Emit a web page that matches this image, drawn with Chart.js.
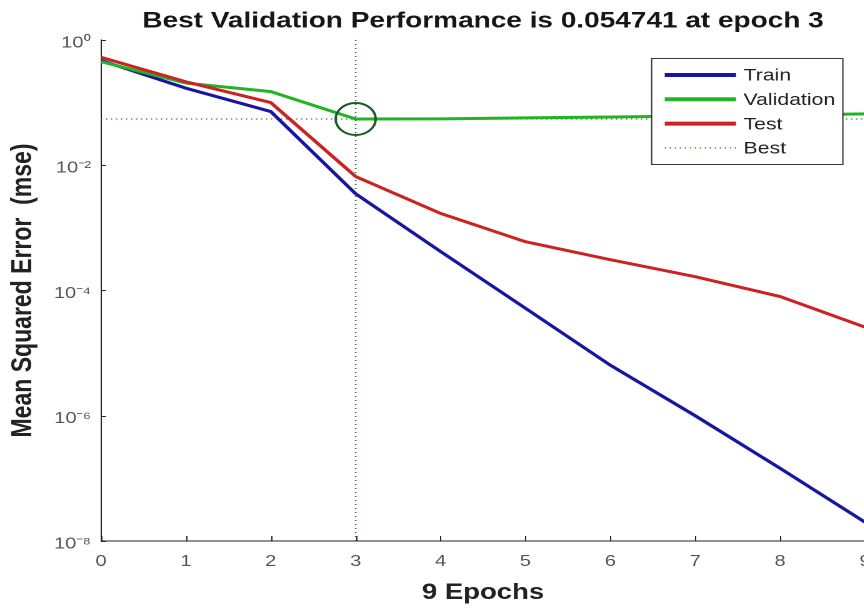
<!DOCTYPE html>
<html><head><meta charset="utf-8">
<script src="https://cdn.jsdelivr.net/npm/chart.js@4"></script>
<style>
html,body{margin:0;padding:0;background:#fff;overflow:hidden;width:864px;height:609px}
#wrap{position:absolute;left:0;top:0;width:774px;height:609px;transform:scaleX(1.25);transform-origin:0 0}
</style></head><body>
<div id="wrap"><canvas id="c"></canvas></div>
<script>
// ---- data ----
const epochs = [0, 1, 2, 3, 4, 5, 6, 7, 8, 9];
const trainPerf = [0.47, 0.17, 0.072, 0.0035, 4.2e-4, 5.2e-5, 6.4e-6, 1.0e-6, 1.45e-7, 2.0e-8];
const validationPerf = [0.45, 0.205, 0.15, 0.054741, 0.055, 0.057, 0.059, 0.061, 0.063, 0.066];
const testPerf = [0.53, 0.215, 0.10, 0.0066, 1.7e-3, 6.0e-4, 3.1e-4, 1.66e-4, 8.0e-5, 2.6e-5];
const bestEpoch = 3;
const bestPerf = 0.054741;
const yMin = 1e-8, yMax = 1;
const xMin = 0, xMax = 9;
const yTickValues = [1e-8, 1e-6, 1e-4, 1e-2, 1];
const yTickLabels = ['10\u207B\u2078', '10\u207B\u2076', '10\u207B\u2074', '10\u207B\u00B2', '10\u2070'];
const xTickValues = [0, 1, 2, 3, 4, 5, 6, 7, 8, 9];
const xTickLabels = ['0', '1', '2', '3', '4', '5', '6', '7', '8', '9'];
const seriesNames = ['Train', 'Validation', 'Test', 'Best'];
const titleText = 'Best Validation Performance is 0.054741 at epoch 3';
const xLabel = '9 Epochs';
const yLabel = 'Mean Squared Error  (mse)';

// ---- styles ----
const FONT = "'Liberation Sans', Arial, Helvetica, sans-serif";
const C_TRAIN = '#1616a2', C_VAL = '#22b422', C_TEST = '#cc2222', C_BEST = '#2a7a2a', C_CIRCLE = '#1d5a26';

const toXY = (ys) => epochs.map((e, i) => ({x: e, y: ys[i]}));

const legendPlugin = {
  id: 'boxLegend',
  afterDraw(chart) {
    const ctx = chart.ctx, ca = chart.chartArea;
    const bx = ca.left + 440, by = ca.top + 18, bw = 153, bh = 106;
    ctx.save();
    ctx.fillStyle = '#fff';
    ctx.fillRect(bx, by, bw, bh);
    ctx.strokeStyle = '#333';
    ctx.lineWidth = 1;
    ctx.strokeRect(bx + 0.5, by + 0.5, bw, bh);
    const styles = [
      {c: C_TRAIN, w: 4, dash: []},
      {c: C_VAL, w: 4, dash: []},
      {c: C_TEST, w: 4, dash: []},
      {c: C_BEST, w: 1.3, dash: [1, 3]}
    ];
    ctx.font = '17px ' + FONT;
    ctx.textBaseline = 'middle';
    ctx.textAlign = 'left';
    seriesNames.forEach((name, i) => {
      const y = by + 17 + i * 24.3;
      ctx.beginPath();
      ctx.setLineDash(styles[i].dash);
      ctx.strokeStyle = styles[i].c;
      ctx.lineWidth = styles[i].w;
      ctx.moveTo(bx + 11, y);
      ctx.lineTo(bx + 68, y);
      ctx.stroke();
      ctx.setLineDash([]);
      ctx.fillStyle = '#222';
      ctx.fillText(name, bx + 74, y + 1);
    });
    ctx.restore();
  }
};

const inwardTicks = {
  id: 'inwardTicks',
  afterDraw(chart) {
    const ctx = chart.ctx, ca = chart.chartArea;
    const xs = chart.scales.x, ys = chart.scales.y;
    ctx.save();
    ctx.strokeStyle = '#222';
    ctx.lineWidth = 1;
    ctx.beginPath();
    xTickValues.forEach(v => {
      const px = Math.round(xs.getPixelForValue(v)) + 0.5;
      ctx.moveTo(px, ca.bottom);
      ctx.lineTo(px, ca.bottom - 5);
    });
    yTickValues.forEach(v => {
      const py = Math.round(ys.getPixelForValue(v)) + 0.5;
      ctx.moveTo(ca.left, py);
      ctx.lineTo(ca.left + 4, py);
    });
    ctx.stroke();
    ctx.restore();
  }
};

new Chart(document.getElementById('c'), {
  type: 'line',
  data: {
    datasets: [
      {label: 'Best marker', data: [{x: bestEpoch, y: bestPerf}], showLine: false,
       pointStyle: 'circle', pointRadius: 16, pointBorderWidth: 2,
       pointBorderColor: C_CIRCLE, pointBackgroundColor: 'rgba(0,0,0,0)', borderColor: C_CIRCLE},
      {label: seriesNames[2], data: toXY(testPerf), borderColor: C_TEST, borderWidth: 3, pointRadius: 0, tension: 0},
      {label: seriesNames[1], data: toXY(validationPerf), borderColor: C_VAL, borderWidth: 3, pointRadius: 0, tension: 0},
      {label: seriesNames[0], data: toXY(trainPerf), borderColor: C_TRAIN, borderWidth: 3, pointRadius: 0, tension: 0},
      {label: seriesNames[3], data: [{x: bestEpoch, y: yMin}, {x: bestEpoch, y: yMax}],
       borderColor: C_BEST, borderWidth: 1.3, borderDash: [1, 3], pointRadius: 0},
      {label: seriesNames[3] + ' level', data: [{x: xMin, y: bestPerf}, {x: xMax, y: bestPerf}],
       borderColor: C_BEST, borderWidth: 1.3, borderDash: [1, 3], pointRadius: 0}
    ]
  },
  options: {
    responsive: true,
    maintainAspectRatio: false,
    devicePixelRatio: 2,
    animation: false,
    events: [],
    layout: {padding: {left: 0, right: 82, top: 0, bottom: 0}},
    plugins: {
      legend: {display: false},
      tooltip: {enabled: false},
      title: {
        display: true, text: titleText, color: '#161616', fullSize: false,
        font: {family: FONT, size: 22.4, weight: 'bold'},
        padding: {top: 8, bottom: 5.1}
      }
    },
    scales: {
      x: {
        type: 'linear', min: xMin, max: xMax,
        afterBuildTicks: (s) => { s.ticks = xTickValues.map(v => ({value: v})); },
        afterFit: (s) => { s.height = 68; },
        ticks: {
          color: '#555', font: {family: FONT, size: 16}, padding: 11,
          maxRotation: 0, autoSkip: false,
          callback: (v) => xTickLabels[xTickValues.indexOf(v)]
        },
        grid: {display: false, drawTicks: false},
        border: {display: true, color: '#222', width: 1},
        title: {display: true, text: xLabel, color: '#222',
                font: {family: FONT, size: 22, weight: 'bold'}, padding: {top: 0, bottom: 3}}
      },
      y: {
        type: 'logarithmic', min: yMin, max: yMax,
        afterBuildTicks: (s) => { s.ticks = yTickValues.map(v => ({value: v})); },
        afterFit: (s) => { s.width = 80.8; },
        ticks: {
          color: '#555', font: {family: FONT, size: 16}, padding: 8, labelOffset: 3,
          autoSkip: false,
          callback: (v) => yTickLabels[yTickValues.indexOf(v)]
        },
        grid: {display: false, drawTicks: false},
        border: {display: true, color: '#222', width: 1},
        title: {display: true, text: yLabel, color: '#222',
                font: {family: FONT, size: 23, weight: 'bold'}, padding: {top: 5, bottom: 0}}
      }
    }
  },
  plugins: [legendPlugin, inwardTicks]
});
</script>
</body></html>
